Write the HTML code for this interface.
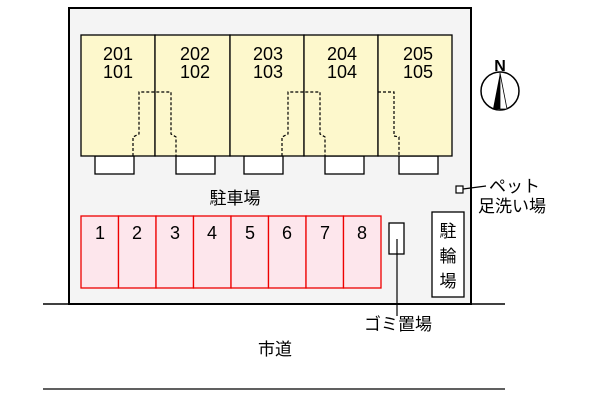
<!DOCTYPE html>
<html><head><meta charset="utf-8"><style>
body{margin:0;background:#fff}
svg text{font-family:"Liberation Sans","Noto Sans CJK JP",sans-serif;fill:#000}
</style></head><body>
<svg width="600" height="400" viewBox="0 0 600 400" xmlns="http://www.w3.org/2000/svg">
<rect x="69" y="8" width="402" height="296" fill="#f4f4f4" stroke="#000" stroke-width="2"/>
<line x1="43" y1="304" x2="505" y2="304" stroke="#000" stroke-width="1.5"/>
<line x1="43" y1="389" x2="505" y2="389" stroke="#000" stroke-width="1.2"/>
<g fill="#fff" stroke="#000" stroke-width="1.3">
<rect x="95" y="156" width="39" height="18"/><rect x="176" y="156" width="39" height="18"/>
<rect x="244" y="156" width="39" height="18"/><rect x="325" y="156" width="39" height="18"/>
<rect x="399" y="156" width="39" height="18"/>
</g>
<g fill="#fdf8cc" stroke="#000" stroke-width="1.3">
<rect x="81" y="35" width="74" height="121"/><rect x="155" y="35" width="75" height="121"/>
<rect x="230" y="35" width="74" height="121"/><rect x="304" y="35" width="74" height="121"/>
<rect x="378" y="35" width="74" height="121"/>
</g>
<g fill="none" stroke="#000" stroke-width="1.2" stroke-dasharray="3,2">
<path d="M133,156V137L139,134V92H171V134L176,137V156"/>
<path d="M282,156V137L288,134V92H320V134L325,137V156"/>
<path d="M378,92H394V136L399,137V156"/>
</g>
<g font-size="18" text-anchor="middle">
<text x="118" y="60">201</text><text x="118" y="78">101</text>
<text x="195" y="60">202</text><text x="195" y="78">102</text>
<text x="268" y="60">203</text><text x="268" y="78">103</text>
<text x="342" y="60">204</text><text x="342" y="78">104</text>
<text x="418" y="60">205</text><text x="418" y="78">105</text>
</g>
<text x="235" y="204" font-size="17" text-anchor="middle">駐車場</text>
<g fill="#fde6ec" stroke="#e00" stroke-width="1.3">
<rect x="81" y="216" width="37.5" height="72"/><rect x="118.5" y="216" width="37.5" height="72"/>
<rect x="156" y="216" width="37.5" height="72"/><rect x="193.5" y="216" width="37.5" height="72"/>
<rect x="231" y="216" width="37.5" height="72"/><rect x="268.5" y="216" width="37.5" height="72"/>
<rect x="306" y="216" width="37.5" height="72"/><rect x="343.5" y="216" width="37.5" height="72"/>
</g>
<g font-size="18" text-anchor="middle">
<text x="100" y="239">1</text><text x="137" y="239">2</text><text x="175" y="239">3</text><text x="212" y="239">4</text>
<text x="250" y="239">5</text><text x="287" y="239">6</text><text x="325" y="239">7</text><text x="362" y="239">8</text>
</g>
<rect x="389" y="223" width="15" height="31" fill="#fff" stroke="#000" stroke-width="1.3"/>
<line x1="397" y1="239" x2="397" y2="316" stroke="#000" stroke-width="1.2"/>
<text x="398" y="330" font-size="17" text-anchor="middle">ゴミ置場</text>
<rect x="432" y="212" width="32" height="85" fill="#fff" stroke="#000" stroke-width="1.3"/>
<g font-size="17" text-anchor="middle"><text x="448" y="237">駐</text><text x="448" y="262">輪</text><text x="448" y="287">場</text></g>
<rect x="456" y="186" width="7" height="7" fill="#fff" stroke="#000" stroke-width="1.2"/>
<line x1="463" y1="189" x2="486" y2="186" stroke="#000" stroke-width="1.2"/>
<text x="489" y="192" font-size="17">ペット</text>
<text x="478" y="212" font-size="17">足洗い場</text>
<circle cx="500" cy="91" r="19" fill="#fff" stroke="#000" stroke-width="1.5"/>
<polygon points="500,73 493,109 507,109" fill="#000"/>
<polygon points="500,73 500,109 507,109" fill="#fff" stroke="#000" stroke-width="0.8"/>
<text x="500" y="71" font-size="16" font-weight="bold" text-anchor="middle">N</text>
<text x="275" y="355" font-size="17" text-anchor="middle">市道</text>
</svg>
</body></html>
